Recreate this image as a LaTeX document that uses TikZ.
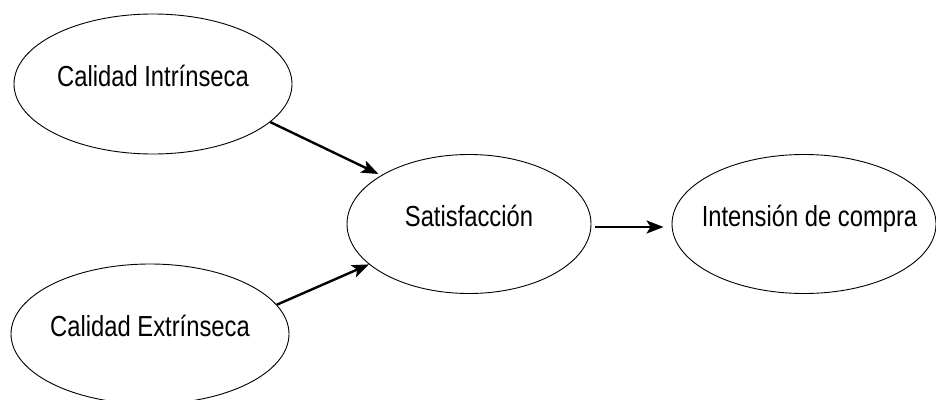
\documentclass[tikz,border=0pt]{standalone}
\usepackage{fontspec}
\setmainfont[FakeStretch=0.82]{Liberation Sans}
\usepackage{tikz}
\usetikzlibrary{arrows.meta,shapes.geometric}

\begin{document}
\begin{tikzpicture}[x=1pt, y=-1pt,
		var/.style={draw, ellipse, line width=0.9pt, inner sep=0pt, inner xsep=-20pt, minimum width=278pt, minimum height=140pt,
			font=\fontsize{29}{32}\selectfont, text height=0.6em, text depth=0.17em},
		link/.style={-{Stealth[length=17pt, width=13pt, inset=4pt]}, line width=2.4pt}]
		\useasboundingbox (0,0) rectangle (936,399);
		\node[var] (ci) at (153,84) {Calidad Intrínseca};
		\node[var] (ce) at (150,334) {Calidad Extrínseca};
		\node[var, minimum width=244pt, minimum height=139pt] (sat) at (469,224) {Satisfacción};
		\node[var, minimum width=264pt, minimum height=139pt] (ic) at (804,224) {\hspace*{11pt}Intensión de compra};
		\draw[link, shorten >=3pt] (ci.-18.4) -- (sat.151.5);
		\draw[link] (ce.13.3) -- (sat.-158.6);
		\draw[link, shorten <=4pt, shorten >=8pt] ([yshift=-3pt]sat.east) -- ([yshift=-3pt]ic.west);
	\end{tikzpicture}
\end{document}
